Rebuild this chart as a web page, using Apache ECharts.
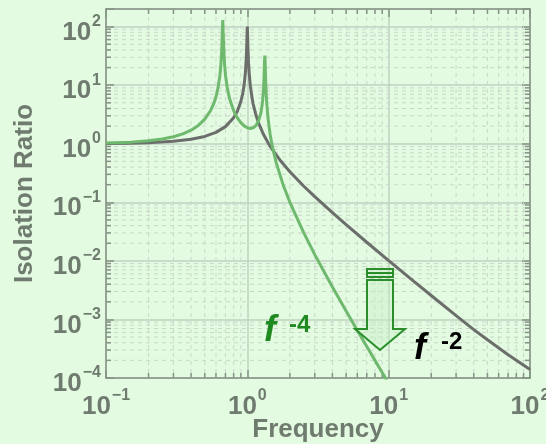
<!DOCTYPE html>
<html>
<head>
<meta charset="utf-8">
<script src="https://cdn.jsdelivr.net/npm/echarts@6/dist/echarts.min.js"></script>
<style>
html, body { margin: 0; padding: 0; background: #e3fbe1; }
#chart { width: 546px; height: 444px; }
</style>
</head>
<body>
<div id="chart"></div>
<script>
// single-stage isolator (gray curve)
var freqGray = [0.1, 0.15, 0.2, 0.3, 0.4, 0.5, 0.6, 0.7, 0.8, 0.85,
  0.9, 0.93, 0.95, 0.97, 0.98, 0.99, 0.995, 1.0, 1.005, 1.01,
  1.02, 1.03, 1.05, 1.08, 1.1, 1.15, 1.2, 1.3, 1.414, 1.5,
  1.7, 2, 2.5, 3, 4, 5, 7, 10, 15, 20,
  30, 40, 50, 70, 100]
var ratioGray = [1.01, 1.023, 1.042, 1.099, 1.19, 1.333, 1.563, 1.961, 2.778, 3.6,
  5.26, 7.4, 10.25, 16.9, 25.2, 45, 71, 100, 70, 44.5,
  24, 16.4, 9.75, 6.01, 4.76, 3.1, 2.27, 1.449, 1.0, 0.8,
  0.529, 0.333, 0.19, 0.125, 0.0667, 0.0417, 0.0208, 0.0101, 0.00451, 0.00256,
  0.00116, 6.7e-4, 4.5e-4, 2.5e-4, 1.4e-4]

// two-stage isolator (green curve)
var freqGreen = [0.1, 0.15, 0.2, 0.25, 0.3, 0.35, 0.4, 0.45, 0.5, 0.55,
  0.58, 0.6, 0.62, 0.64, 0.65, 0.66, 0.665, 0.67, 0.675, 0.68,
  0.69, 0.7, 0.72, 0.75, 0.8, 0.85, 0.9, 0.95, 1.0, 1.05,
  1.1, 1.15, 1.2, 1.25, 1.28, 1.3, 1.31, 1.32, 1.325, 1.33,
  1.335, 1.34, 1.35, 1.37, 1.4, 1.45, 1.5, 1.6, 1.8, 2,
  2.5, 3, 4, 5, 6, 7, 8, 9, 10]
var ratioGreen = [1.03, 1.066, 1.123, 1.204, 1.317, 1.477, 1.708, 2.056, 2.627, 3.7,
  4.92, 6.33, 8.88, 14.8, 22.3, 44, 75, 130, 78, 45,
  22.7, 15.1, 9.15, 5.8, 3.68, 2.77, 2.29, 2.02, 1.87, 1.82,
  1.87, 2.04, 2.44, 3.45, 5.11, 8.1, 11.9, 21, 28, 32,
  28, 21, 10.8, 5.15, 2.75, 1.44, 0.917, 0.476, 0.193, 0.1,
  0.0306, 0.0128, 0.00359, 0.00139, 6.5e-4, 3.46e-4, 2.0e-4, 1.24e-4, 8.1e-5]

// minor grid positions
var xMinor = [0.2, 0.3, 0.4, 0.5, 0.6, 0.7, 0.8, 0.9,
  2, 3, 4, 5, 6, 7, 8, 9,
  20, 30, 40, 50, 60, 70, 80, 90]
var yMinor = [2e-4, 3e-4, 4e-4, 5e-4, 6e-4, 7e-4, 8e-4, 9e-4,
  2e-3, 3e-3, 4e-3, 5e-3, 6e-3, 7e-3, 8e-3, 9e-3,
  0.02, 0.03, 0.04, 0.05, 0.06, 0.07, 0.08, 0.09,
  0.2, 0.3, 0.4, 0.5, 0.6, 0.7, 0.8, 0.9,
  2, 3, 4, 5, 6, 7, 8, 9,
  20, 30, 40, 50, 60, 70, 80, 90]

var FONT = '"Liberation Sans", Arial, sans-serif'
var labelColor = '#6f7b6f'
var axisColor = '#859285'
var majorGrid = '#c0d1c0'
var minorGrid = '#c9d8c9'

function zip(a, b) {
  return a.map(function (v, i) { return [v, b[i]] })
}

function powLabel(v) {
  var e = Math.round(Math.log10(v))
  if (Math.abs(v - Math.pow(10, e)) > 1e-6 * Math.pow(10, e)) return ''
  return '{b|10}{s|' + (e < 0 ? '\u2212' + (-e) : e) + '}'
}

var richLabel = {
  b: { fontSize: 26, fontWeight: 'bold', fontFamily: FONT, color: labelColor, verticalAlign: 'bottom' },
  s: { fontSize: 16, fontWeight: 'bold', fontFamily: FONT, color: labelColor, verticalAlign: 'bottom', padding: [0, 0, 16, 1] }
}

function logAxis(min, max, pos, main, margin, pad) {
  return {
    type: 'log',
    logBase: 10,
    min: min,
    max: max,
    position: pos,
    axisLine: { show: true, onZero: false, lineStyle: { color: axisColor, width: 1.5 } },
    axisTick: { show: true, inside: true, length: 8, lineStyle: { color: axisColor, width: 1.5 } },
    axisLabel: main ? { show: true, formatter: powLabel, rich: richLabel, margin: margin, padding: pad } : { show: false },
    splitLine: { show: main, lineStyle: { color: majorGrid, width: 1.5 } },
    minorTick: { show: false },
    minorSplitLine: { show: false }
  }
}

var xMain = logAxis(0.1, 100, 'bottom', true, 10, 0)
xMain.name = 'Frequency'
xMain.nameLocation = 'middle'
xMain.nameGap = 39
xMain.nameMoveOverlap = false
xMain.nameTextStyle = { fontSize: 26, fontWeight: 'bold', fontFamily: FONT, color: labelColor }

var yMain = logAxis(1e-4, 200, 'left', true, 5, [6, 0, 0, 0])
yMain.name = 'Isolation Ratio'
yMain.nameLocation = 'middle'
yMain.nameGap = 68
yMain.nameMoveOverlap = false
yMain.nameTextStyle = { fontSize: 26, fontWeight: 'bold', fontFamily: FONT, color: labelColor }

var myChart = echarts.init(document.getElementById('chart'))
var option = {
  backgroundColor: '#e3fbe1',
  animation: false,
  grid: { left: 106, right: 16, top: 9, bottom: 66, containLabel: false, outerBoundsMode: 'none' },
  xAxis: [xMain, logAxis(0.1, 100, 'top', false)],
  yAxis: [yMain, logAxis(1e-4, 200, 'right', false)],
  series: [
    {
      // 次网格线 x
      type: 'custom',
      silent: true,
      z: 1,
      data: xMinor.map(function (v) { return [v, 1] }),
      renderItem: function (params, api) {
        var x = api.coord([api.value(0), 1])[0]
        var cs = params.coordSys
        return {
          type: 'group',
          children: [
            { type: 'line', shape: { x1: x, y1: cs.y, x2: x, y2: cs.y + cs.height }, style: { stroke: minorGrid, lineWidth: 1, lineDash: [4, 4] } },
            { type: 'line', shape: { x1: x, y1: cs.y + cs.height, x2: x, y2: cs.y + cs.height - 5 }, style: { stroke: axisColor, lineWidth: 1.5 } },
            { type: 'line', shape: { x1: x, y1: cs.y, x2: x, y2: cs.y + 5 }, style: { stroke: axisColor, lineWidth: 1.5 } }
          ]
        }
      }
    },
    {
      // 次网格线 y
      type: 'custom',
      silent: true,
      z: 1,
      data: yMinor.map(function (v) { return [1, v] }),
      renderItem: function (params, api) {
        var y = api.coord([1, api.value(1)])[1]
        var cs = params.coordSys
        return {
          type: 'group',
          children: [
            { type: 'line', shape: { x1: cs.x, y1: y, x2: cs.x + cs.width, y2: y }, style: { stroke: minorGrid, lineWidth: 1, lineDash: [4, 4] } },
            { type: 'line', shape: { x1: cs.x, y1: y, x2: cs.x + 5, y2: y }, style: { stroke: axisColor, lineWidth: 1.5 } },
            { type: 'line', shape: { x1: cs.x + cs.width, y1: y, x2: cs.x + cs.width - 5, y2: y }, style: { stroke: axisColor, lineWidth: 1.5 } }
          ]
        }
      }
    },
    {
      name: 'single',
      type: 'line',
      z: 3,
      data: zip(freqGray, ratioGray),
      showSymbol: false,
      clip: true,
      lineStyle: { color: '#6b6e6b', width: 3 }
    },
    {
      name: 'double',
      type: 'line',
      z: 4,
      data: zip(freqGreen, ratioGreen),
      showSymbol: false,
      clip: true,
      lineStyle: { color: '#6fb96f', width: 3 }
    }
  ],
  graphic: [
    // 箭头
    { type: 'rect', shape: { x: 367, y: 269, width: 26, height: 8 }, style: { fill: 'rgba(200,240,200,0.4)', stroke: '#2a8f2a', lineWidth: 2 }, z: 10 },
    { type: 'line', shape: { x1: 367, y1: 273, x2: 393, y2: 273 }, style: { stroke: '#2a8f2a', lineWidth: 2 }, z: 10 },
    {
      type: 'polygon',
      shape: { points: [[367, 280], [393, 280], [393, 329], [405, 329], [380, 350], [355, 329], [367, 329]] },
      style: { fill: 'rgba(200,240,200,0.45)', stroke: '#2a8f2a', lineWidth: 2 },
      z: 10
    },
    { type: 'text', x: 264, y: 331, z: 10, style: { text: 'f', font: 'italic bold 36px ' + FONT, fill: '#1f8a1f', verticalAlign: 'middle' } },
    { type: 'text', x: 289, y: 325, z: 10, style: { text: '-4', font: 'bold 24px ' + FONT, fill: '#1f8a1f', verticalAlign: 'middle' } },
    { type: 'text', x: 414, y: 349, z: 10, style: { text: 'f', font: 'italic bold 36px ' + FONT, fill: '#000000', verticalAlign: 'middle' } },
    { type: 'text', x: 441, y: 342, z: 10, style: { text: '-2', font: 'bold 24px ' + FONT, fill: '#000000', verticalAlign: 'middle' } }
  ]
}
myChart.setOption(option)
window.addEventListener('resize', () => {
  myChart.resize()
})
</script>
</body>
</html>
